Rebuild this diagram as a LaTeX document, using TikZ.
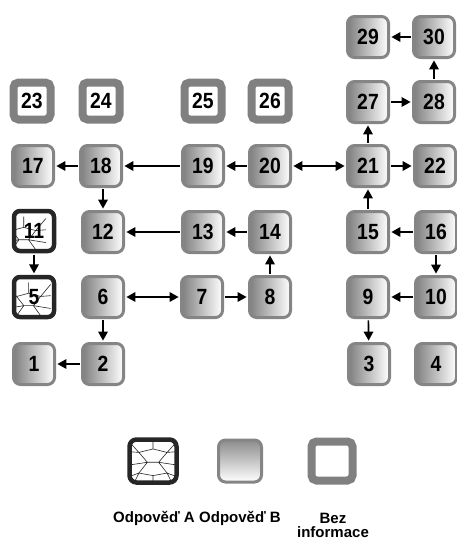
\documentclass[tikz,border=0pt]{standalone}
\usepackage{fontspec}
\setmainfont{Liberation Sans}
\usepackage{graphicx}
\usetikzlibrary{arrows.meta}

% wire net inside the "A" boxes, in coordinates from -0.5 to 0.5 (y downwards)
\newcommand{\wirenet}{%
  \draw[line width=0.6pt, sharp corners]
    (0,-0.55) -- (0,-0.28)
    (-0.55,-0.5) -- (-0.3,-0.2) -- (0,-0.28) -- (0.3,-0.2) -- (0.55,-0.5)
    (-0.3,-0.2) -- (-0.12,0.03) -- (0.12,0.03) -- (0.3,-0.2)
    (-0.55,-0.22) -- (-0.3,-0.2)
    (0.55,-0.22) -- (0.3,-0.2)
    (-0.55,0.1) -- (-0.12,0.03)
    (0.55,0.1) -- (0.12,0.03)
    (-0.12,0.03) -- (-0.3,0.28) -- (0,0.34) -- (0.3,0.28) -- (0.12,0.03)
    (0,0.34) -- (0,0.55)
    (-0.3,0.28) -- (-0.42,0.55)
    (0.3,0.28) -- (0.42,0.55)
    (-0.3,0.28) -- (-0.55,0.38)
    (0.3,0.28) -- (0.55,0.38);}

\tikzset{
  numtext/.style={font=\fontsize{22}{22}\selectfont\bfseries},
  boxb/.style={rectangle, rounded corners=7pt, minimum size=41pt, inner sep=0pt,
    draw=black!48, line width=3pt, left color=black!50, right color=white, numtext},
  boxc/.style={rectangle, rounded corners=5pt, minimum size=37pt, inner sep=0pt,
    draw=black!50, line width=8pt, fill=white, numtext},
  boxa/.style={rectangle, rounded corners=6pt, minimum size=40pt, inner sep=0pt,
    draw=black!85, line width=4.5pt, fill=white, numtext,
    path picture={\begin{scope}[shift={(path picture bounding box.center)}, x=40pt, y=-40pt]\wirenet\end{scope}}},
  link/.style={line width=1.7pt, -{Triangle[length=9pt,width=9.5pt]}, shorten >=1.4pt, shorten <=1.4pt},
  twoway/.style={line width=1.7pt, {Triangle[length=9pt,width=9.5pt]}-{Triangle[length=9pt,width=9.5pt]}, shorten >=1.4pt, shorten <=1.4pt},
  legtext/.style={font=\fontsize{15}{15}\selectfont\bfseries, align=center}
}
\newcommand{\nm}[1]{\scalebox{0.88}[1]{#1}}

\begin{document}
\begin{tikzpicture}[x=1pt, y=-1pt]
\useasboundingbox (0,0) rectangle (457,541);

% top row
\node[boxb] (n29) at (368,37) {\nm{29}};
\node[boxb] (n30) at (434,37) {\nm{30}};
% second row
\node[boxc] (n23) at (32,101) {\nm{23}};
\node[boxc] (n24) at (101,101) {\nm{24}};
\node[boxc] (n25) at (203,101) {\nm{25}};
\node[boxc] (n26) at (270,101) {\nm{26}};
\node[boxb] (n27) at (368,102) {\nm{27}};
\node[boxb] (n28) at (434,102) {\nm{28}};
% third row
\node[boxb] (n17) at (33,166) {\nm{17}};
\node[boxb] (n18) at (101,166) {\nm{18}};
\node[boxb] (n19) at (203,166) {\nm{19}};
\node[boxb] (n20) at (270,166) {\nm{20}};
\node[boxb] (n21) at (368,166) {\nm{21}};
\node[boxb] (n22) at (435,166) {\nm{22}};
% fourth row
\node[boxa] (n11) at (34,231) {\nm{11}};
\node[boxb] (n12) at (103,232) {\nm{12}};
\node[boxb] (n13) at (203,232) {\nm{13}};
\node[boxb] (n14) at (270,232) {\nm{14}};
\node[boxb] (n15) at (368,232) {\nm{15}};
\node[boxb] (n16) at (436,232) {\nm{16}};
% fifth row
\node[boxa] (n5) at (34,297) {\nm{5}};
\node[boxb] (n6) at (103,297) {\nm{6}};
\node[boxb] (n7) at (202,297) {\nm{7}};
\node[boxb] (n8) at (270,297) {\nm{8}};
\node[boxb] (n9) at (368,297) {\nm{9}};
\node[boxb] (n10) at (436,297) {\nm{10}};
% bottom row
\node[boxb] (n1) at (34,364) {\nm{1}};
\node[boxb] (n2) at (103,364) {\nm{2}};
\node[boxb] (n3) at (369,364) {\nm{3}};
\node[boxb] (n4) at (436,364) {\nm{4}};

% connections
\draw[link] (n30) -- (n29);
\draw[link] (n28) -- (n30);
\draw[link] (n27) -- (n28);
\draw[link] (n21) -- (n27);
\draw[twoway] (n20) -- (n21);
\draw[link] (n20) -- (n19);
\draw[link] (n19) -- (n18);
\draw[link] (n18) -- (n17);
\draw[link] (n18.south -| n12) -- (n12);
\draw[link] (n21) -- (n22);
\draw[link] (n15) -- (n21);
\draw[link] (n16) -- (n15);
\draw[link] (n16) -- (n10);
\draw[link] (n10) -- (n9);
\draw[link] (n9) -- (n3);
\draw[link] (n14) -- (n13);
\draw[link] (n13) -- (n12);
\draw[link] (n8) -- (n14);
\draw[link] (n7) -- (n8);
\draw[twoway] (n6) -- (n7);
\draw[link] (n6) -- (n2);
\draw[link] (n2) -- (n1);
\draw[link] (n11) -- (n5);

% legend
\node[boxa, minimum width=47pt, minimum height=43pt, rounded corners=7pt,
  path picture={\begin{scope}[shift={(path picture bounding box.center)}, x=47pt, y=-43pt]\wirenet\end{scope}}] (la) at (153,461) {};
\node[boxb, minimum width=43pt, minimum height=42pt, left color=white, right color=white,
  top color=black!45, bottom color=white] (lb) at (240,461) {};
\node[boxc, minimum width=41pt, minimum height=39pt] (lc) at (332,461) {};
\node[legtext] (ta) at (154,518) {Odpověď A};
\node[legtext] (tb) at (240,518) {Odpověď B};
\node[legtext] (tc1) at (333,518) {Bez};
\node[legtext] (tc2) at (333,532) {informace};
\end{tikzpicture}
\end{document}
